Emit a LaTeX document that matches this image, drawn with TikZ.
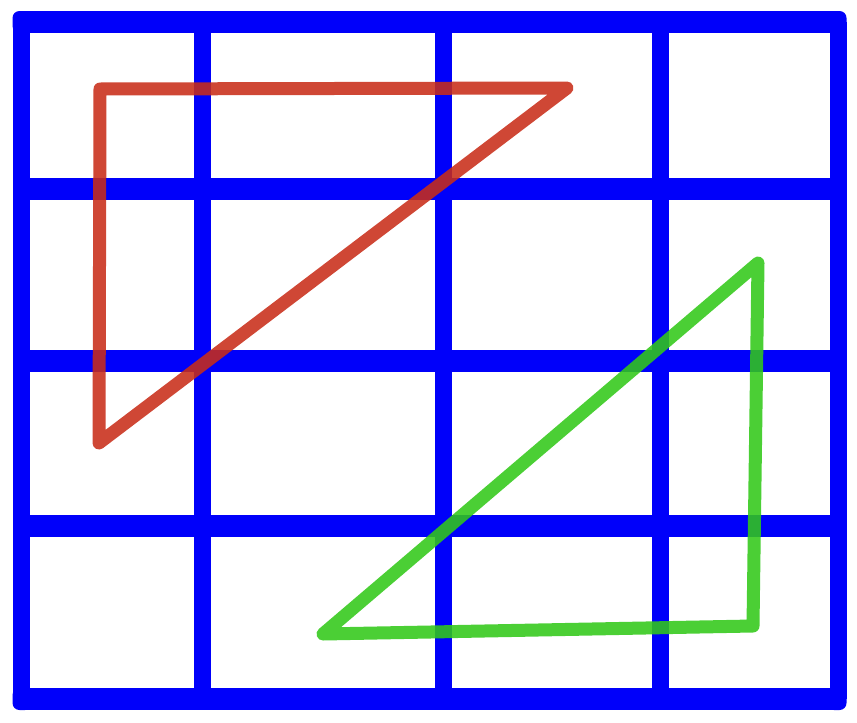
\documentclass[tikz,border=0pt]{standalone}
\definecolor{gridblue}{RGB}{0,0,250}
\definecolor{trired}{RGB}{200,45,25}
\definecolor{trigreen}{RGB}{50,200,25}
\tikzset{
  vline/.style={draw=gridblue, line width=17pt, line cap=butt},
  hline/.style={draw=gridblue, line width=22pt, line cap=butt},
  cornerfill/.style={fill=gridblue, rounded corners=7pt},
  tri/.style={line width=13pt, line join=round, line cap=round, draw opacity=0.88}
}
\begin{document}
\begin{tikzpicture}[x=1pt,y=-1pt]
\useasboundingbox (0,0) rectangle (857,723);
% interior verticals
\foreach \x in {202,443,660} \draw[vline] (\x,22) -- (\x,699);
% interior horizontals
\foreach \y in {189,361,526} \draw[hline] (21,\y) -- (838,\y);
% outer frame
\draw[hline] (21,22) -- (838,22);
\draw[hline] (21,699) -- (838,699);
\draw[vline] (21,22) -- (21,699);
\draw[vline] (838,22) -- (838,699);
\fill[cornerfill] (12.5,11) rectangle (32,33);
\fill[cornerfill] (827,11) rectangle (846.5,33);
\fill[cornerfill] (12.5,688) rectangle (32,710);
\fill[cornerfill] (827,688) rectangle (846.5,710);
% triangles
\coordinate (r1) at (100,89);
\coordinate (r2) at (567,88);
\coordinate (r3) at (99,443);
\draw[tri, trired] (r1) -- (r2) -- (r3) -- cycle;
\coordinate (g1) at (758,263);
\coordinate (g2) at (753,626);
\coordinate (g3) at (323,634);
\draw[tri, trigreen] (g1) -- (g2) -- (g3) -- cycle;
\end{tikzpicture}
\end{document}
